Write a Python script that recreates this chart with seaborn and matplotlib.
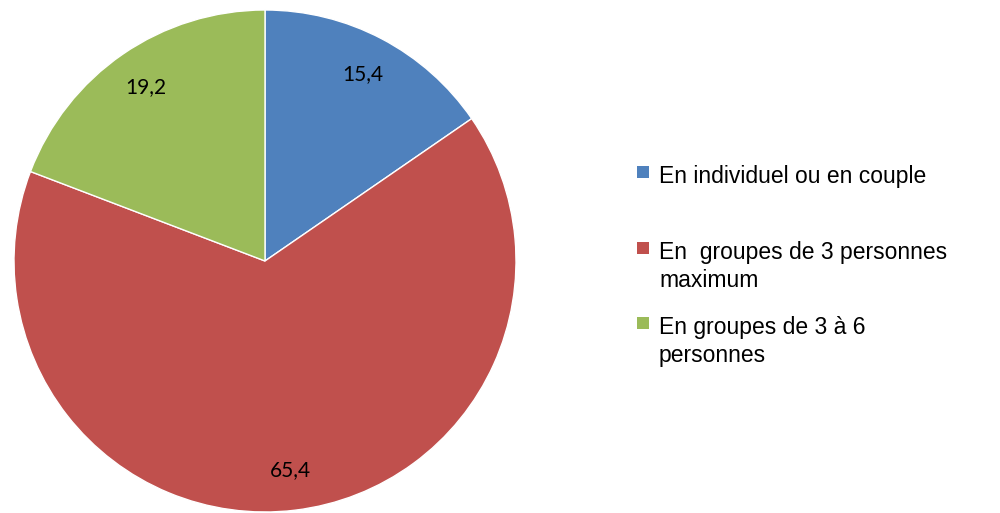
import matplotlib
matplotlib.use("Agg")
import matplotlib.pyplot as plt
import seaborn as sns
import numpy as np
from matplotlib.patches import Rectangle

# data
categories = ["En individuel ou en couple",
              "En  groupes de 3 personnes\nmaximum",
              "En groupes de 3 à 6\npersonnes"]
values = [15.4, 65.4, 19.2]
value_labels = ["15,4", "65,4", "19,2"]
colors = ["#4F81BD", "#C0504D", "#9BBB59"]

sns.set_theme(style="white")
plt.rcParams['font.family'] = ['Liberation Sans', 'DejaVu Sans']

fig = plt.figure(figsize=(10, 5.13), dpi=100)
ax = fig.add_axes([0.014, 0.00195, 0.502, 0.9786])

wedges, _ = ax.pie(values, colors=colors, startangle=90, counterclock=False,
                   radius=1.0,
                   wedgeprops=dict(edgecolor="white", linewidth=1.0))
ax.set_xlim(-1, 1)
ax.set_ylim(-1, 1)
ax.set_aspect("equal")
ax.axis("off")

# value labels inside slices
for w, lab in zip(wedges, value_labels):
    ang = np.deg2rad((w.theta1 + w.theta2) / 2)
    ax.text(0.84 * np.cos(ang), 0.84 * np.sin(ang), lab,
            ha="center", va="center", fontsize=15, color="black",
            family=['Lato', 'DejaVu Sans'])

# legend, placed by hand to follow the original spacing
H = 513
entries_y = [175, 251, 326]  # centre of first line, pixels from top
for col, lab, y in zip(colors, categories, entries_y):
    fig.patches.append(Rectangle((637 / 1000, (H - y - 3) / H), 12 / 1000, 12 / H,
                                 transform=fig.transFigure, facecolor=col,
                                 edgecolor="none"))
    fig.text(659 / 1000, (H - y + 10) / H, lab, ha="left", va="top",
             fontsize=16.5, color="black", linespacing=1.3,
             transform=fig.transFigure)

fig.savefig("out.png", dpi=100, facecolor="white")
